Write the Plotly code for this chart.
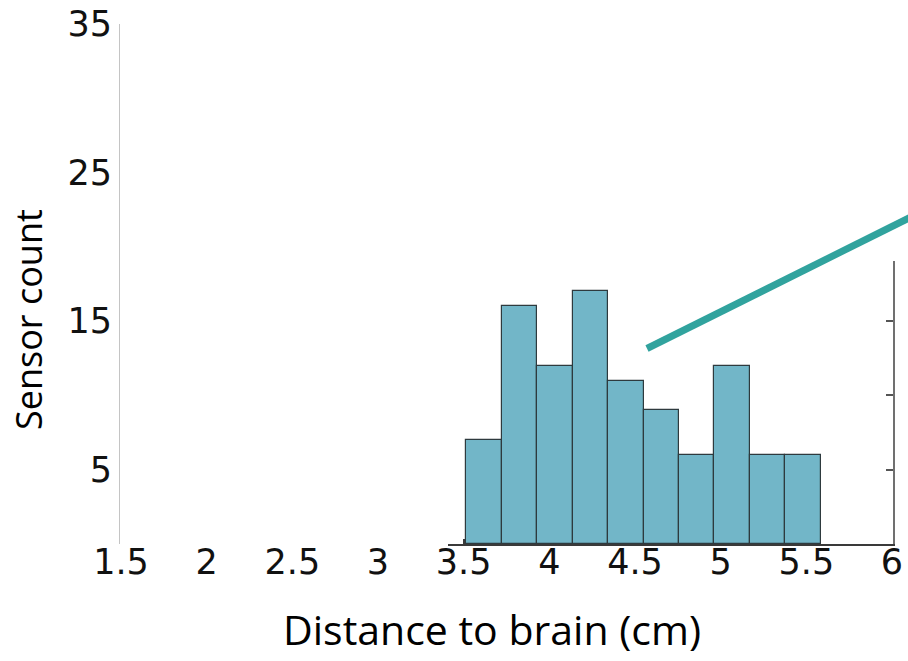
import plotly.graph_objects as go

# ---- data ----
bin_edges = [3.514, 3.722, 3.928, 4.136, 4.344, 4.551, 4.758, 4.962, 5.170, 5.375, 5.584]
counts = [7, 16, 12, 17, 11, 9, 6, 12, 6, 6]
x_ticks = [1.5, 2, 2.5, 3, 3.5, 4, 4.5, 5, 5.5, 6]
x_tick_text = ["1.5", "2", "2.5", "3", "3.5", "4", "4.5", "5", "5.5", "6"]
y_ticks = [5, 15, 25, 35]
y_tick_text = ["5", "15", "25", "35"]
right_ticks = [5, 10, 15]
x_title = "Distance to brain (cm)"
y_title = "Sensor count"

centers = [(a + b) / 2 for a, b in zip(bin_edges[:-1], bin_edges[1:])]
widths = [b - a for a, b in zip(bin_edges[:-1], bin_edges[1:])]

# ---- layout geometry (pixels of a 908x661 page) ----
W, H = 908, 661
px_per_x = (892 - 121) / 4.5          # pixels per cm
x_left_px, x_right_px = 120, 893
x_at = lambda px: 1.5 + (px - 121) / px_per_x
y_base_px, y_top_px = 544, 24
px_per_y = (y_base_px - y_top_px) / 35.0
right_top_px = 261
inner_left_px = 448

fy = lambda px: 1 - px / H
fx = lambda px: px / W

fig = go.Figure()
fig.add_trace(go.Bar(
    x=centers, y=counts, width=widths,
    marker=dict(color="#72b6c8", line=dict(color="#2e3a3e", width=1.2)),
    xaxis="x", yaxis="y", showlegend=False, hoverinfo="x+y",
))
fig.add_trace(go.Scatter(x=[], y=[], xaxis="x2", yaxis="y2", showlegend=False))

tick_font = dict(family="DejaVu Sans", size=35, color="#111111")

fig.update_layout(
    width=W, height=H, autosize=False,
    margin=dict(l=0, r=0, t=0, b=0, pad=0),
    paper_bgcolor="white", plot_bgcolor="rgba(0,0,0,0)",
    bargap=0,
    xaxis=dict(
        domain=[fx(x_left_px), fx(x_right_px)],
        range=[x_at(x_left_px), x_at(x_right_px)],
        anchor="y", showline=False, showgrid=False, zeroline=False,
        tickvals=x_ticks, ticktext=x_tick_text, ticks="",
        tickfont=tick_font, ticklabelstandoff=-6, automargin=False,
    ),
    yaxis=dict(
        domain=[fy(y_base_px), fy(y_top_px)],
        range=[0, 35], anchor="x",
        showline=True, linecolor="#c4c4c4", linewidth=1,
        showgrid=False, zeroline=False,
        tickvals=y_ticks, ticktext=y_tick_text, ticks="",
        tickfont=tick_font, ticklabelstandoff=0, automargin=False,
    ),
    xaxis2=dict(
        domain=[fx(inner_left_px), fx(x_right_px)],
        range=[x_at(inner_left_px), x_at(x_right_px)],
        anchor="y2", showline=True, linecolor="#3a3a3a", linewidth=1.5,
        showgrid=False, zeroline=False, showticklabels=False,
        ticks="inside", tickvals=[3.5], ticklen=5, tickcolor="#3a3a3a", tickwidth=1.5,
        automargin=False,
    ),
    yaxis2=dict(
        domain=[fy(y_base_px), fy(right_top_px)],
        range=[0, (y_base_px - right_top_px) / px_per_y],
        anchor="x2", side="right",
        showline=True, linecolor="#707070", linewidth=2,
        showgrid=False, zeroline=False, showticklabels=False,
        ticks="inside", tickvals=right_ticks, ticklen=7, tickcolor="#555555", tickwidth=1.5,
        automargin=False,
    ),
    shapes=[dict(
        type="line", xref="paper", yref="paper",
        x0=fx(647), y0=fy(348.5), x1=fx(912), y1=fy(216.5),
        line=dict(color="#31a39e", width=7),
    )],
    annotations=[
        dict(text=x_title, xref="paper", yref="paper",
             x=fx(491.5), y=fy(629), xanchor="center", yanchor="middle",
             showarrow=False, font=dict(family="Open Sans", size=41, color="#000000")),
        dict(text=y_title, xref="paper", yref="paper", textangle=-90,
             x=fx(28), y=fy(320), xanchor="center", yanchor="middle",
             showarrow=False, font=dict(family="Open Sans", size=36, color="#000000")),
    ],
)

fig.write_html("out.html")
